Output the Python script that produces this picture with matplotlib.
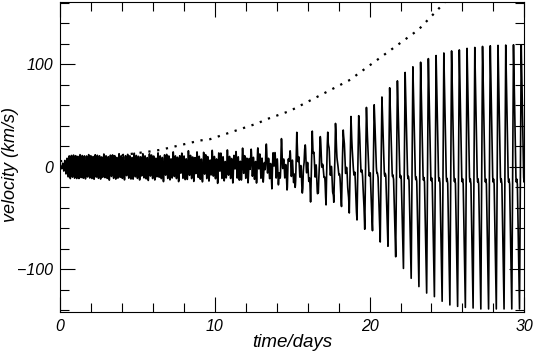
import numpy as np
import matplotlib.pyplot as plt

plt.rcParams['font.family'] = ['Liberation Sans', 'DejaVu Sans']
plt.rcParams['font.style'] = 'italic'

# times of the main (0.5 day) pulsation maxima, days
peak_t = np.arange(61) * 0.5 + 0.3

# velocity at each maximum and at the following minimum (km/s)
peak_v = [0.5, 1, 1, 1.5, 1.5, 2, 2, 2, 2.5, 2.5, 3, 3, 3.5, 3.5,
          4, 5, 5, 6, 5.5, 7, 8, 6.5, 9, 8, 11, 12,
          16, 13, 20, 15, 26, 22, 32, 29, 36, 39, 39.5, 46,
          52, 57, 60.5, 68.6, 76.5, 84, 92, 97.5, 102, 105.5, 108.5, 111,
          113, 114, 115.5, 116.4, 117.4, 118, 118.4, 118.7, 119, 119, 119]
trough_v = [-0.5, -1, -1, -1.5, -1.5, -2, -2, -2, -2.5, -2.5, -3, -3, -3.5, -3.5,
            -4, -4, -4.5, -5, -5, -5.5, -6, -6, -6.5, -7, -7.5, -8,
            -12, -17, -16, -20, -24, -29, -31, -32, -38, -37, -45, -53,
            -59, -64, -72, -78, -87.5, -99, -108.6, -116.7, -123, -126.5, -131, -134.6,
            -136, -137, -137.6, -138.5, -138.5, -138.5, -138.5, -138.5, -138.5, -138.5, -138.5]

# short-period wiggle riding on top (amplitude in km/s)
fast_t = [0, 0.6, 8, 12, 14, 16, 18, 20, 22, 31]
fast_amp = [0, 11, 11, 10.5, 9.5, 7, 4, 2, 0, 0]

# dotted growth curve
curve_t = [0, 3, 5.8, 6.5, 9.05, 9.7, 12.8, 13.25, 14.87, 18.75, 19.18, 23.16, 24.67, 25.2]
curve_v = [5.5, 9.5, 15, 16.6, 25.7, 27, 42.6, 45.9, 54.6, 84.9, 89.8, 133.7, 157.4, 166.4]

# build the line through each cycle: max, shoulder with small notch, min
vt = [0.0]
vv = [0.0]
for t0, hi, lo in zip(peak_t, peak_v, trough_v):
    amp = hi - lo
    base = -0.05 * amp
    s = amp / 257
    vt += [t0, t0 + 0.15, t0 + 0.185, t0 + 0.21, t0 + 0.25, t0 + 0.39]
    vv += [hi, base + 4 * s, base - 2 * s, base + 1 * s, base - 4 * s, lo]

t = np.linspace(0, 30.5, 12201)
v = np.interp(t, vt, vv) + np.interp(t, fast_t, fast_amp) * np.sin(2 * np.pi * t / 0.14)

fig = plt.figure(figsize=(5.37, 3.56), dpi=100)
ax = fig.add_axes([0.1117, 0.1236, 0.9764 - 0.1117, 0.9952 - 0.1236])

ax.plot(t, v, color='black', linewidth=1.2)
ax.plot(curve_t, curve_v, color='black', linewidth=1.6, linestyle=(0, (1, 3)))

ax.set_xlim(0, 30)
ax.set_ylim(-141.5, 161)
ax.set_xticks([0, 10, 20, 30])
ax.set_xticks(np.arange(0, 31, 2), minor=True)
ax.set_yticks([-100, 0, 100])
ax.set_yticks(np.arange(-140, 161, 20), minor=True)
ax.tick_params(which='both', direction='in', top=True, right=True, width=0.8,
               labelsize=11.5, pad=5)
ax.tick_params(which='major', length=10.5)
ax.tick_params(which='minor', length=6.5)
for sp in ax.spines.values():
    sp.set_linewidth(0.8)

ax.set_xlabel('time/days', fontsize=13.5, labelpad=0)
ax.set_ylabel('velocity (km/s)', fontsize=13)
ax.yaxis.set_label_coords(-0.088, 0.475)

fig.savefig('out.png', dpi=100)
